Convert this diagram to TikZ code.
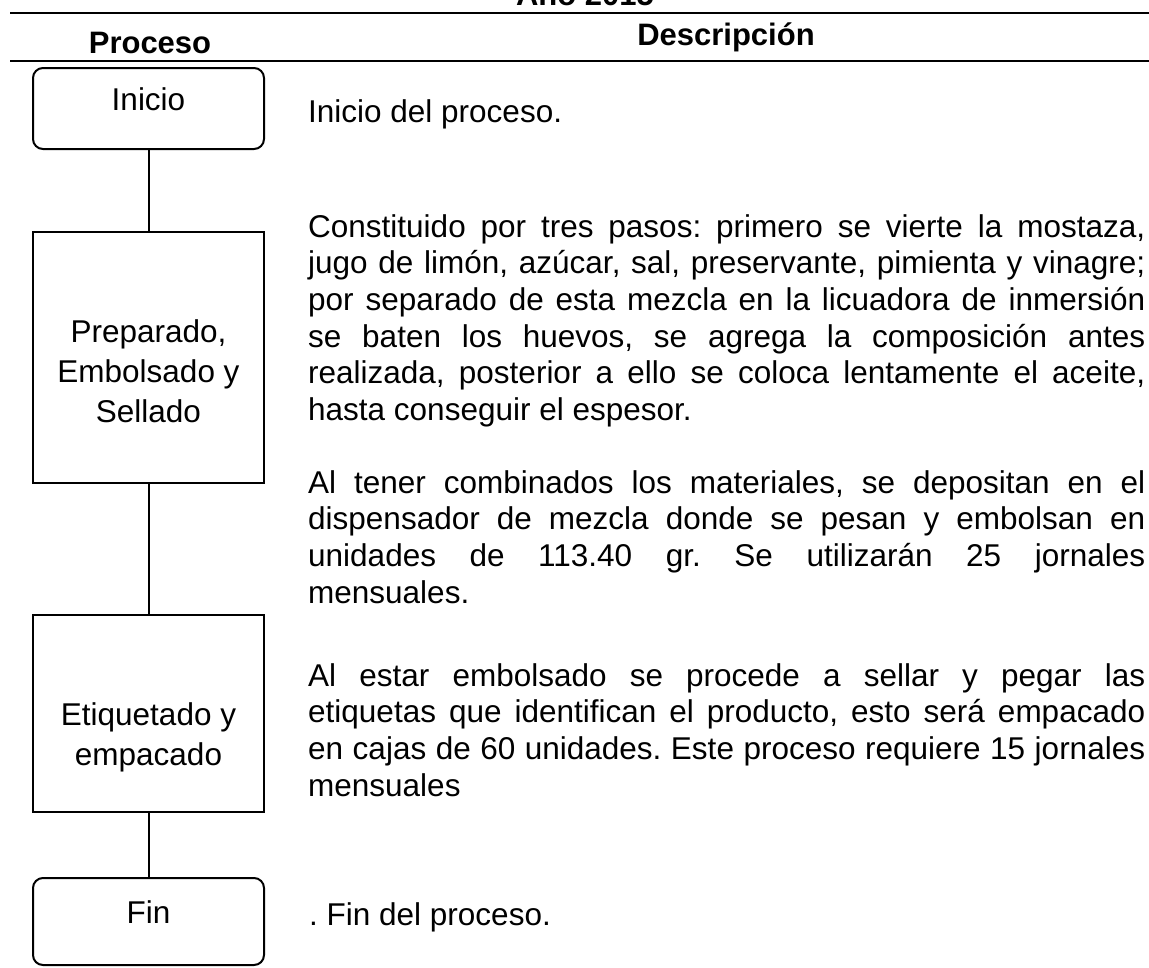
\documentclass[tikz,border=0pt]{standalone}
\usepackage{fontspec}
\setmainfont{Liberation Sans}
\setlength{\parindent}{0pt}
\frenchspacing
\hbadness=10000
\newcommand\descfont{\fontsize{31.5pt}{36.6pt}\selectfont}
\newcommand\boxfont{\fontsize{31.5pt}{40pt}\selectfont}
\newcommand\headfont{\fontsize{31pt}{36pt}\selectfont\bfseries}
\newcommand\descstrut{\rule{0pt}{25pt}}
\tikzset{
  procbox/.style={draw, line width=2pt, minimum width=231pt, inner sep=0pt, font=\boxfont},
  termbox/.style={procbox, rounded corners=10pt},
  desc/.style={anchor=north west, text width=837pt, align=justify, inner sep=0pt, font=\descfont},
  head/.style={anchor=base, inner sep=0pt, font=\headfont},
}
\begin{document}
\begin{tikzpicture}[x=1pt,y=-1pt]
\useasboundingbox (0,0) rectangle (1149,967);
\foreach \y in {13,61}
{
    \draw[line width=1.8pt](10,\y)--(1149,\y);
}
\node[head] (anio) at (585,5) {Año 2015};
\node[head] (proceso) at (150,53) {Proceso};
\node[head] (descripcion) at (726,45) {Descripción};

\node[termbox, text height=42pt, text depth=39pt] (inicio) at (148.5,108.5) {Inicio};
\node[procbox, text height=110pt, text depth=141pt] (preparado) at (148.5,357.5)
    {\begin{tabular}[t]{@{}c@{}}Preparado,\\Embolsado y\\Sellado\end{tabular}};
\node[procbox, text height=110pt, text depth=87pt] (etiquetado) at (148.5,713.5)
    {\begin{tabular}[t]{@{}c@{}}Etiquetado y\\empacado\end{tabular}};
\node[termbox, text height=45pt, text depth=42pt] (fin) at (148.5,921.5) {Fin};

\draw[line width=2pt](inicio)--(preparado);
\draw[line width=2pt](preparado)--(etiquetado);
\draw[line width=2pt](etiquetado)--(fin);

\node[desc] (dinicio) at (308,97) {\descstrut Inicio del proceso.};
\node[desc] (dprep) at (308,212) {\descstrut Constituido por tres pasos: primero se vierte la mostaza,\linebreak
jugo de limón, azúcar, sal, preservante, pimienta y vinagre;\linebreak
por separado de esta mezcla en la licuadora de inmersión\linebreak
se baten los huevos, se agrega la composición antes\linebreak
realizada, posterior a ello se coloca lentamente el aceite,\linebreak
hasta conseguir el espesor.};
\node[desc] (dpesado) at (308,468) {\descstrut Al tener combinados los materiales, se depositan en el\linebreak
dispensador de mezcla donde se pesan y embolsan en\linebreak
unidades de 113.40 gr. Se utilizarán 25 jornales\linebreak
mensuales.};
\node[desc] (detiq) at (308,661) {\descstrut Al estar embolsado se procede a sellar y pegar las\linebreak
etiquetas que identifican el producto, esto será empacado\linebreak
en cajas de 60 unidades. Este proceso requiere 15 jornales\linebreak
mensuales};
\node[desc] (dfin) at (309,900) {\descstrut . Fin del proceso.};
\end{tikzpicture}
\end{document}
